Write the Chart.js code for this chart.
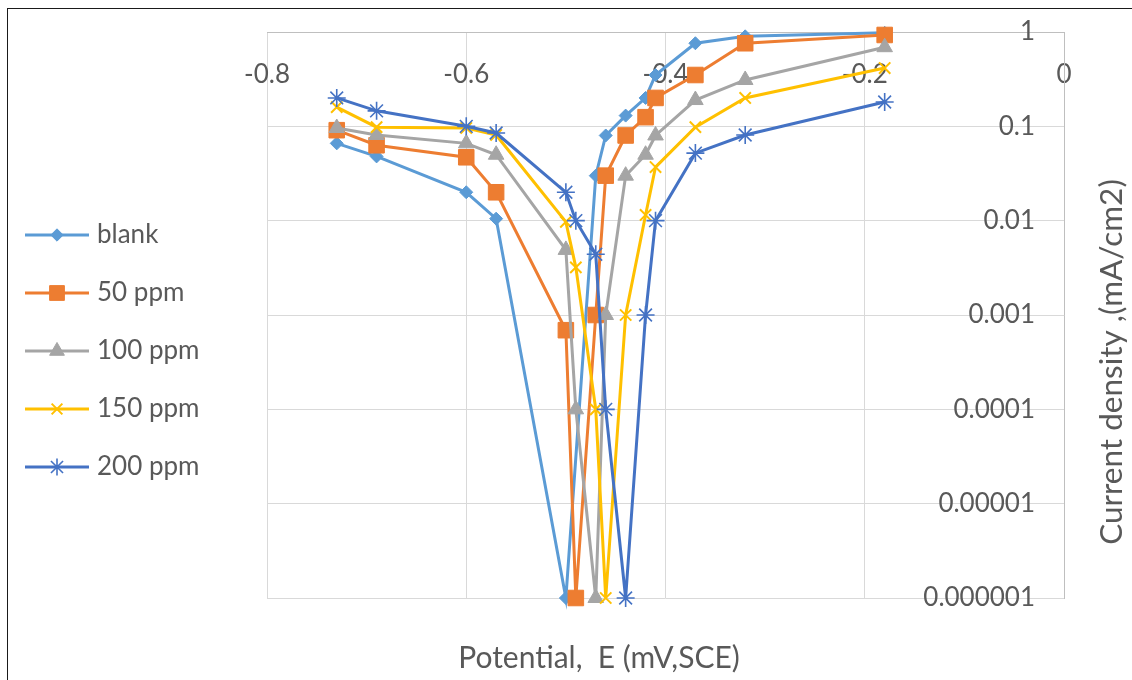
<!DOCTYPE html>
<html>
<head>
<meta charset="utf-8">
<script src="https://cdn.jsdelivr.net/npm/chart.js@4.4.1/dist/chart.umd.min.js"></script>
<style>
html, body { margin: 0; padding: 0; background: #ffffff; }
#wrap { position: relative; width: 1132px; height: 680px; overflow: hidden; }
#frame { position: absolute; left: 7px; top: 8px; right: -2px; bottom: -2px; border-left: 1px solid #1a1a1a; border-top: 1px solid #1a1a1a; pointer-events: none; }
canvas { display: block; }
</style>
</head>
<body>
<div id="wrap"><canvas id="c" width="1132" height="680"></canvas><div id="frame"></div></div>
<script>
// ---- data ----
const seriesNames = ['blank', '50 ppm', '100 ppm', '150 ppm', '200 ppm'];

const potentialBlank = [-0.73, -0.69, -0.60, -0.57, -0.50, -0.47, -0.46, -0.44, -0.42, -0.41, -0.37, -0.32, -0.18];
const currentBlank   = [0.066, 0.048, 0.020, 0.0105, 0.000001, 0.030, 0.080, 0.130, 0.200, 0.350, 0.760, 0.900, 0.980];

const potential50 = [-0.73, -0.69, -0.60, -0.57, -0.50, -0.49, -0.47, -0.46, -0.44, -0.42, -0.41, -0.37, -0.32, -0.18];
const current50   = [0.091, 0.063, 0.047, 0.020, 0.00069, 0.000001, 0.001, 0.030, 0.080, 0.125, 0.200, 0.350, 0.760, 0.930];

const potential100 = [-0.73, -0.69, -0.60, -0.57, -0.50, -0.49, -0.47, -0.46, -0.44, -0.42, -0.41, -0.37, -0.32, -0.18];
const current100   = [0.096, 0.081, 0.066, 0.050, 0.0049, 0.0001, 0.000001, 0.001, 0.030, 0.050, 0.080, 0.190, 0.310, 0.690];

const potential150 = [-0.73, -0.69, -0.60, -0.57, -0.50, -0.49, -0.47, -0.46, -0.44, -0.42, -0.41, -0.37, -0.32, -0.18];
const current150   = [0.160, 0.098, 0.096, 0.081, 0.0097, 0.0032, 0.0001, 0.000001, 0.001, 0.0115, 0.037, 0.098, 0.200, 0.415];

const potential200 = [-0.73, -0.69, -0.60, -0.57, -0.50, -0.49, -0.47, -0.46, -0.44, -0.42, -0.41, -0.37, -0.32, -0.18];
const current200   = [0.200, 0.146, 0.100, 0.085, 0.020, 0.010, 0.0044, 0.0001, 0.000001, 0.001, 0.010, 0.052, 0.081, 0.181];

const xTickValues = [-0.8, -0.6, -0.4, -0.2, 0];
const xTickLabels = ['-0.8', '-0.6', '-0.4', '-0.2', '0'];
const yTickValues = [0.000001, 0.00001, 0.0001, 0.001, 0.01, 0.1, 1];
const yTickLabels = ['0.000001', '0.00001', '0.0001', '0.001', '0.01', '0.1', '1'];

const xAxisTitle = 'Potential,  E (mV,SCE)';
const yAxisTitle = 'Current density ,(mA/cm2)';

// ---- styles ----
const seriesColors = ['#5B9BD5', '#ED7D31', '#A5A5A5', '#FFC000', '#4472C4'];
const seriesMarkers = ['rectRot', 'rect', 'triangle', 'crossRot', 'star'];
const seriesMarkerRadius = [6.5, 11, 9, 8, 9];
const seriesMarkerBorder = [1, 1, 1, 2, 1.6];
const textGrey = '#595959';
const FONT = 'Lato';

const seriesX = [potentialBlank, potential50, potential100, potential150, potential200];
const seriesY = [currentBlank, current50, current100, current150, current200];

function labelFor(values, labels, v) {
  for (let i = 0; i < values.length; i++) {
    if (Math.abs(values[i] - v) <= Math.abs(values[i]) * 1e-6 + 1e-12) return labels[i];
  }
  return '';
}

function drawMarker(ctx, style, r, x, y, color, bw) {
  ctx.save();
  ctx.fillStyle = color; ctx.strokeStyle = color; ctx.lineWidth = bw;
  ctx.beginPath();
  const c = Math.SQRT1_2 * r;
  if (style === 'rectRot') {
    ctx.moveTo(x - r, y); ctx.lineTo(x, y - r); ctx.lineTo(x + r, y); ctx.lineTo(x, y + r); ctx.closePath();
    ctx.fill(); ctx.stroke();
  } else if (style === 'rect') {
    ctx.rect(x - c, y - c, 2 * c, 2 * c); ctx.fill(); ctx.stroke();
  } else if (style === 'triangle') {
    ctx.moveTo(x, y - r);
    ctx.lineTo(x + Math.sin(2 * Math.PI / 3) * r, y - Math.cos(2 * Math.PI / 3) * r);
    ctx.lineTo(x + Math.sin(4 * Math.PI / 3) * r, y - Math.cos(4 * Math.PI / 3) * r);
    ctx.closePath(); ctx.fill(); ctx.stroke();
  } else if (style === 'crossRot') {
    ctx.moveTo(x - c, y - c); ctx.lineTo(x + c, y + c);
    ctx.moveTo(x - c, y + c); ctx.lineTo(x + c, y - c);
    ctx.stroke();
  } else if (style === 'star') {
    ctx.moveTo(x - c, y - c); ctx.lineTo(x + c, y + c);
    ctx.moveTo(x - c, y + c); ctx.lineTo(x + c, y - c);
    ctx.moveTo(x, y - r); ctx.lineTo(x, y + r);
    ctx.moveTo(x - r, y); ctx.lineTo(x + r, y);
    ctx.stroke();
  }
  ctx.restore();
}

function legendImage(i) {
  const cv = document.createElement('canvas');
  cv.width = 66; cv.height = 26;
  const g = cv.getContext('2d');
  g.strokeStyle = seriesColors[i]; g.lineWidth = 3;
  g.beginPath(); g.moveTo(1, 13); g.lineTo(65, 13); g.stroke();
  drawMarker(g, seriesMarkers[i], seriesMarkerRadius[i] * 0.95, 33, 13, seriesColors[i], seriesMarkerBorder[i]);
  return cv;
}

const axisTitlesPlugin = {
  id: 'axisTitles',
  afterDraw(chart) {
    const ctx = chart.ctx, a = chart.chartArea;
    ctx.save();
    ctx.fillStyle = textGrey;
    ctx.textAlign = 'center';
    ctx.textBaseline = 'middle';
    ctx.font = '30px ' + FONT;
    ctx.fillText(xAxisTitle, 599, a.bottom + 60);
    ctx.font = '31.5px ' + FONT;
    ctx.translate(a.right + 48, 362);
    ctx.rotate(-Math.PI / 2);
    ctx.fillText(yAxisTitle, 0, 0);
    ctx.restore();
  }
};

function build() {
  const legendImages = seriesNames.map((_, i) => legendImage(i));
  const datasets = seriesNames.map((name, i) => ({
    label: name,
    data: seriesX[i].map((x, k) => ({ x: x, y: seriesY[i][k] })),
    borderColor: seriesColors[i],
    backgroundColor: seriesColors[i],
    borderWidth: 3,
    tension: 0,
    pointStyle: seriesMarkers[i],
    pointRadius: seriesMarkerRadius[i],
    pointHoverRadius: seriesMarkerRadius[i],
    pointBackgroundColor: seriesColors[i],
    pointBorderColor: seriesColors[i],
    pointBorderWidth: seriesMarkerBorder[i],
    clip: false,
    order: seriesNames.length - i,
    xAxisID: 'x',
    yAxisID: 'y'
  }));

  new Chart(document.getElementById('c'), {
    type: 'line',
    data: { datasets: datasets },
    plugins: [axisTitlesPlugin],
    options: {
      responsive: false,
      animation: false,
      devicePixelRatio: 1,
      layout: { padding: { left: -2, top: 32, right: 0, bottom: 10 } },
      plugins: {
        tooltip: { enabled: false },
        title: { display: false },
        legend: {
          display: true,
          position: 'left',
          align: 'center',
          maxWidth: 320,
          labels: {
            usePointStyle: true,
            pointStyleWidth: 54,
            padding: 32,
            color: textGrey,
            font: { family: FONT, size: 26 },
            generateLabels: (chart) => chart.data.datasets.map((ds, i) => ({
              text: ds.label,
              pointStyle: legendImages[i],
              fillStyle: ds.borderColor,
              strokeStyle: ds.borderColor,
              lineWidth: 0,
              hidden: false,
              datasetIndex: i,
              fontColor: textGrey
            }))
          }
        }
      },
      scales: {
        x: {
          type: 'linear',
          position: 'top',
          min: -0.8,
          max: 0,
          afterBuildTicks: (s) => { s.ticks = xTickValues.map(v => ({ value: v })); },
          afterFit: (s) => { s.height = 0; s.paddingLeft = 0; s.paddingRight = 0; },
          grid: { color: '#d9d9d9', lineWidth: 1, drawTicks: false },
          border: { color: '#bfbfbf', width: 1 },
          ticks: {
            mirror: true,
            padding: 27,
            autoSkip: false,
            maxRotation: 0,
            color: textGrey,
            font: { family: FONT, size: 26 },
            callback: (v) => labelFor(xTickValues, xTickLabels, v)
          }
        },
        xb: {
          type: 'linear',
          position: 'bottom',
          display: true,
          grid: { display: false, drawTicks: false },
          border: { display: false },
          ticks: { display: false },
          afterFit: (s) => { s.height = 72; s.paddingLeft = 0; s.paddingRight = 0; }
        },
        y: {
          type: 'logarithmic',
          position: 'right',
          min: 0.000001,
          max: 1,
          afterBuildTicks: (s) => { s.ticks = yTickValues.map(v => ({ value: v })); },
          afterFit: (s) => { s.width = 68; s.paddingTop = 0; s.paddingBottom = 0; },
          grid: { color: '#d9d9d9', lineWidth: 1, drawTicks: false },
          border: { color: '#bfbfbf', width: 1 },
          ticks: {
            mirror: true,
            padding: -29,
            autoSkip: false,
            color: textGrey,
            font: { family: FONT, size: 26 },
            callback: (v) => labelFor(yTickValues, yTickLabels, v)
          }
        },
        yl: {
          type: 'linear',
          position: 'left',
          display: true,
          grid: { display: false, drawTicks: false },
          border: { display: false },
          ticks: { display: false },
          afterFit: (s) => { s.width = Math.max(0, 269 - (s.chart.legend ? s.chart.legend.width : 0)); s.paddingTop = 0; s.paddingBottom = 0; }
        }
      }
    }
  });
}

if (document.fonts && document.fonts.load) {
  Promise.all([document.fonts.load('26px ' + FONT), document.fonts.load('30px ' + FONT)]).then(build, build);
} else {
  build();
}
</script>
</body>
</html>
